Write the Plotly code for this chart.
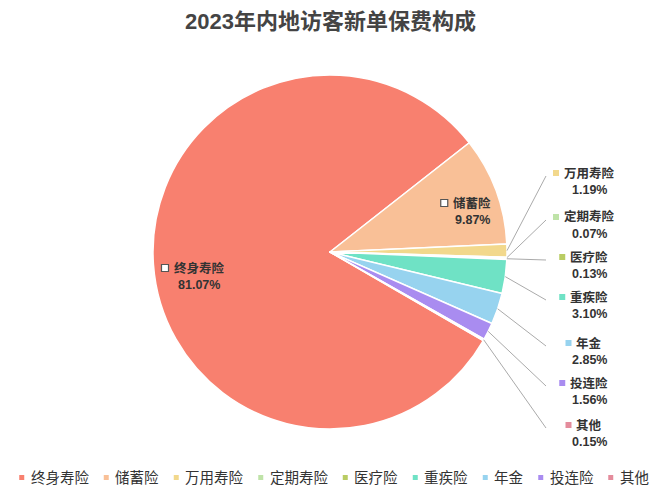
import plotly.graph_objects as go
import math

# ---- data ----
categories = ["终身寿险", "储蓄险", "万用寿险", "定期寿险", "医疗险", "重疾险", "年金", "投连险", "其他"]
shares = [81.07, 9.87, 1.19, 0.07, 0.13, 3.10, 2.85, 1.56, 0.15]
colors = ["#F8806F", "#F9C097", "#F2D88C", "#BFE3A8", "#B9CC63", "#6FE2C5", "#97D3EF", "#A98CF0", "#E48C9C"]
title_text = "2023年内地访客新单保费构成"

W, H = 660, 495
CX, CY, R = 330, 252, 177
ROT = 120  # degrees clockwise from 12 o'clock
FONT = "Liberation Sans, Noto Sans CJK SC"
LS = 16.5  # spacing between name line and percent line


def px(x):
    return x / W


def py(y):
    return 1 - y / H


def label(x, y, text, size=12.5, color="#333333", xanchor="center"):
    return dict(x=px(x), y=py(y), xref="paper", yref="paper", text=text,
                showarrow=False, xanchor=xanchor, yanchor="middle",
                font=dict(family=FONT, size=size, color=color))


fig = go.Figure()
fig.add_trace(go.Pie(
    labels=categories,
    values=shares,
    sort=False,
    direction="clockwise",
    rotation=ROT,
    marker=dict(colors=colors, line=dict(color="white", width=1.5)),
    textinfo="none",
    hoverinfo="label+percent",
    showlegend=False,
    domain=dict(x=[px(CX - R), px(CX + R)], y=[py(CY + R), py(CY - R)]),
))

shapes = []
annotations = []

# ---- slice geometry from data ----
total = sum(shares)
start_math = 90 - ROT
mids = []
cum = 0.0
for v in shares:
    mid = start_math - 360 * (cum + v / 2) / total
    mids.append(mid)
    cum += v


def add_label(i, xc, y1, marker_fill, marker_line, msz, mgap):
    annotations.append(label(xc, y1, "<b>%s</b>" % categories[i]))
    annotations.append(label(xc, y1 + LS, "<b>%.2f%%</b>" % shares[i]))
    tw = len(categories[i]) * 12.5
    mx = xc - tw / 2 - mgap
    shapes.append(dict(type="rect", xref="paper", yref="paper",
                       x0=px(mx - msz / 2), x1=px(mx + msz / 2),
                       y0=py(y1 + msz / 2), y1=py(y1 - msz / 2),
                       fillcolor=marker_fill, line=marker_line, layer="above"))


# ---- inside labels (y = first line centre) ----
inside = {0: (199, 268), 1: (472, 203)}
for i, (xc, y1) in inside.items():
    add_label(i, xc, y1, "white", dict(color="#555555", width=1.2), 7, 9)

# ---- outside labels on the right (y = first line centre) ----
right_rows = {2: 173, 3: 217, 4: 257, 5: 297, 6: 343, 7: 383, 8: 425}
LX = 589
for i, y1 in right_rows.items():
    add_label(i, LX, y1, colors[i], dict(width=0), 6, 8)
    a = math.radians(mids[i])
    sx = CX + R * math.cos(a)
    sy = CY - R * math.sin(a)
    shapes.append(dict(type="line", xref="paper", yref="paper",
                       x0=px(sx), y0=py(sy), x1=px(546), y1=py(y1 + 3),
                       line=dict(color="#AAAAAA", width=1), layer="above"))

# ---- custom legend ----
LF = 14.5
gap_marker = 4.5
msize = 5
item_gap = 17
widths = [msize + gap_marker + len(c) * LF for c in categories]
total_w = sum(widths) + item_gap * (len(categories) - 1)
x = CX + 3 - total_w / 2
LY = 477.5
for i, c in enumerate(categories):
    shapes.append(dict(type="rect", xref="paper", yref="paper",
                       x0=px(x), x1=px(x + msize), y0=py(LY + msize / 2), y1=py(LY - msize / 2),
                       fillcolor=colors[i], line=dict(width=0), layer="above"))
    annotations.append(label(x + msize + gap_marker, LY, c, size=LF, xanchor="left"))
    x += widths[i] + item_gap

# ---- title ----
annotations.append(label(330, 21, "<b>%s</b>" % title_text, size=22, color="#444444"))

fig.update_layout(
    width=W, height=H,
    margin=dict(l=0, r=0, t=0, b=0),
    paper_bgcolor="white",
    plot_bgcolor="white",
    shapes=shapes,
    annotations=annotations,
    showlegend=False,
)

fig.write_html("out.html")
